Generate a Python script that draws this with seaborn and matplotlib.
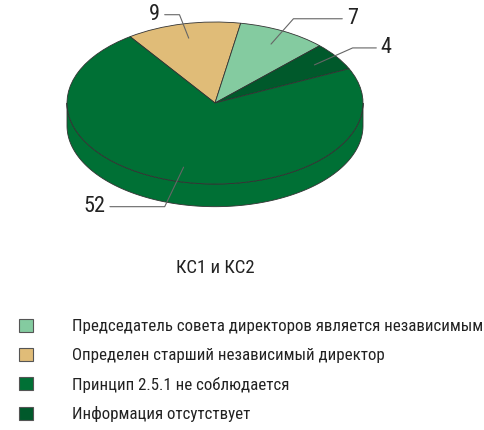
import seaborn as sns
import matplotlib.pyplot as plt
import numpy as np
from matplotlib.patches import Patch, Polygon

# slices in drawing order (clockwise from the top-left)
slice_names = [
    "Определен старший независимый директор",
    "Председатель совета директоров является независимым",
    "Информация отсутствует",
    "Принцип 2.5.1 не соблюдается",
]
slice_values = [9, 7, 4, 52]
slice_colors = ["#E0BC78", "#84CBA0", "#00592B", "#007035"]
legend_order = [1, 0, 3, 2]
title = "КС1 и КС2"

# leader line elbow / end points and text alignment for each label
label_elbows = [(-0.24, 1.09), (0.53, 1.04), (0.93, 0.68), (-0.34, -1.28)]
label_ends = [(-0.34, 1.09), (0.86, 1.04), (1.09, 0.68), (-0.71, -1.28)]
label_align = ["right", "left", "left", "right"]

sns.set_theme(style="white")
plt.rcParams["font.family"] = ["Roboto Condensed", "Sofia Sans Condensed", "DejaVu Sans"]

fig = plt.figure(figsize=(4.85, 4.3), dpi=100)
ax = fig.add_axes([0, 0, 1, 1])

wedges, _ = ax.pie(slice_values, colors=slice_colors, startangle=125,
                   counterclock=False,
                   wedgeprops=dict(edgecolor="#333333", linewidth=0.6))

# front side of the disc, below the top face
depth = 0.28
t = np.linspace(np.pi, 2 * np.pi, 200)
top = np.column_stack([np.cos(t), np.sin(t)])
bottom = np.column_stack([np.cos(t[::-1]), np.sin(t[::-1]) - depth])
side = Polygon(np.vstack([top, bottom]), closed=True, facecolor=slice_colors[3],
               edgecolor="#333333", linewidth=0.6, zorder=0.5)
ax.add_patch(side)

# value labels with leader lines
for w, val, elbow, end, ha in zip(wedges, slice_values, label_elbows, label_ends, label_align):
    mid = np.deg2rad((w.theta1 + w.theta2) / 2)
    anchor = (0.82 * np.cos(mid), 0.82 * np.sin(mid))
    ax.plot([anchor[0], elbow[0], end[0]], [anchor[1], elbow[1], end[1]],
            color="#666666", linewidth=0.8, zorder=3)
    dx = 0.03 if ha == "left" else -0.03
    ax.text(end[0] + dx, end[1], str(val), ha=ha, va="center",
            fontsize=16, color="#222222")

ax.set_aspect("auto")
ax.set_xlim(-215 / 148, 270 / 148)
ax.set_ylim((103 - 430) / 81, 103 / 81)
ax.axis("off")

fig.text(215 / 485, 1 - 268 / 430, title, ha="center", va="center",
         fontsize=13.5, color="#222222")

handles = [Patch(facecolor=slice_colors[i], edgecolor="#555555", linewidth=0.8)
           for i in legend_order]
labels = [slice_names[i] for i in legend_order]
fig.legend(handles, labels, loc="upper left", bbox_to_anchor=(19 / 485, 1 - 319 / 430),
           frameon=False, fontsize=12.2, handlelength=0.8, handleheight=0.8,
           handletextpad=2.35, labelspacing=0.8, borderpad=0, borderaxespad=0,
           labelcolor="#222222")

fig.savefig("out.png", dpi=100)
